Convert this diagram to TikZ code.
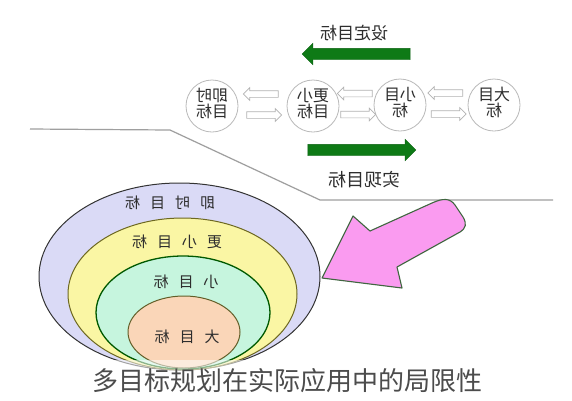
\documentclass[tikz,border=0pt]{standalone}
\usepackage{fontspec}
\usepackage{graphicx}
\newfontfamily\cjk{Noto Sans CJK SC}
\usetikzlibrary{shapes.arrows,calc}
\definecolor{arrgreen}{RGB}{14,122,22}
\definecolor{lav}{RGB}{218,218,246}
\definecolor{yel}{RGB}{250,246,164}
\definecolor{mint}{RGB}{198,245,222}
\definecolor{peach}{RGB}{250,214,184}
\definecolor{pinkf}{RGB}{250,155,240}
\definecolor{txt}{RGB}{45,45,45}
\begin{document}
\begin{tikzpicture}[x=1pt,y=-1pt,
  goal/.style={circle,draw=gray!55,line width=0.8pt,fill=white,minimum size=52pt,inner sep=0pt,
    font=\cjk\fontsize{16}{19}\selectfont,text=txt},
  hollow/.style={single arrow,draw=gray!60,line width=0.7pt,fill=white,inner sep=0pt,
    text height=3pt,text depth=3pt,minimum height=35pt,single arrow head extend=3pt,
    single arrow head indent=0pt},
  greenarr/.style={single arrow,fill=arrgreen,draw=arrgreen!80!black,line width=0.4pt,inner sep=0pt,
    text height=5.5pt,text depth=5.5pt,minimum height=108pt,single arrow head extend=5pt,
    single arrow head indent=0pt},
  toplabel/.style={font=\cjk\fontsize{17}{17}\selectfont,text=txt},
  ringlabel/.style={font=\cjk\fontsize{15}{15}\selectfont,text=txt},
  ring/.style={line width=1pt}
]
\useasboundingbox (0,0) rectangle (572,400);
\fill[white] (0,0) rectangle (572,400);

% top labels and green arrows
\node[toplabel] (set) at (354,33) {\reflectbox{设定目标}};
\node[greenarr,shape border rotate=180] (garrL) at (359,54) {};
\node[greenarr] (garrR) at (359,150) {};
\node[toplabel,font=\cjk\fontsize{18}{18}\selectfont] (real) at (364,180) {\reflectbox{实现目标}};

% goal circles
\node[goal] (c1) at (212,106) {\reflectbox{\begin{tabular}{@{}c@{}}即时\\[-3pt]目标\end{tabular}}};
\node[goal] (c2) at (313,106) {\reflectbox{\begin{tabular}{@{}c@{}}更小\\[-3pt]目标\end{tabular}}};
\node[goal] (c3) at (400,105) {\reflectbox{\begin{tabular}{@{}c@{}}小目\\[-3pt]标\end{tabular}}};
\node[goal] (c4) at (494,105) {\reflectbox{\begin{tabular}{@{}c@{}}大目\\[-3pt]标\end{tabular}}};

% hollow arrows between circles
\foreach \a/\b in {c1/c2,c2/c3,c3/c4}{
  \node[hollow,shape border rotate=180] (l\a) at ($($(\a.east)!0.5!(\b.west)$)+(0,-12)$) {};
  \node[hollow] (r\a) at ($($(\a.east)!0.5!(\b.west)$)+(0,9)$) {};
}

% separator line
\coordinate (s1) at (30,129);
\coordinate (s2) at (170,130);
\coordinate (s3) at (320,200);
\coordinate (s4) at (553,200);
\draw[gray!75,line width=1.2pt] (s1) -- (s2) -- (s3) -- (s4);

% nested ellipses
\draw[ring,draw=gray!40!black,fill=lav] (179.5,276.5) ellipse [x radius=140.5pt,y radius=93.5pt];
\draw[ring,draw=olive!70!black,fill=yel] (182.5,294) ellipse [x radius=114.5pt,y radius=76pt];
\draw[ring,draw=green!35!black,line width=1.3pt,fill=mint] (183,312.5) ellipse [x radius=87pt,y radius=56.5pt];
\draw[ring,draw=olive!60!black,fill=peach] (184,332) ellipse [x radius=56pt,y radius=36pt];

\node[ringlabel] (e1) at (170,203) {\reflectbox{即\hspace{10pt}时\hspace{10pt}目\hspace{10pt}标}};
\node[ringlabel] (e2) at (177,242) {\reflectbox{更\hspace{10pt}小\hspace{10pt}目\hspace{10pt}标}};
\node[ringlabel] (e3) at (186,282) {\reflectbox{小\hspace{10pt}目\hspace{10pt}标}};
\node[ringlabel] (e4) at (187,337) {\reflectbox{大\hspace{10pt}目\hspace{10pt}标}};

% pink arrow
\draw[fill=pinkf,draw=green!20!black!75,line width=1.1pt,line join=round]
  (322,278) -- (353,216) -- (370,231) -- (432,203)
  .. controls (443,198) and (450,198) .. (455,205) -- (463,217)
  .. controls (467,224) and (466,228) .. (460,232) -- (397,267) -- (402,288) -- cycle;

% caption band
\fill[white,opacity=0.55] (0,360) rectangle (572,400);
\node[font=\cjk\fontsize{26}{26}\selectfont,text=gray!60!black] (cap) at (287,381) {多目标规划在实际应用中的局限性};
\end{tikzpicture}
\end{document}
